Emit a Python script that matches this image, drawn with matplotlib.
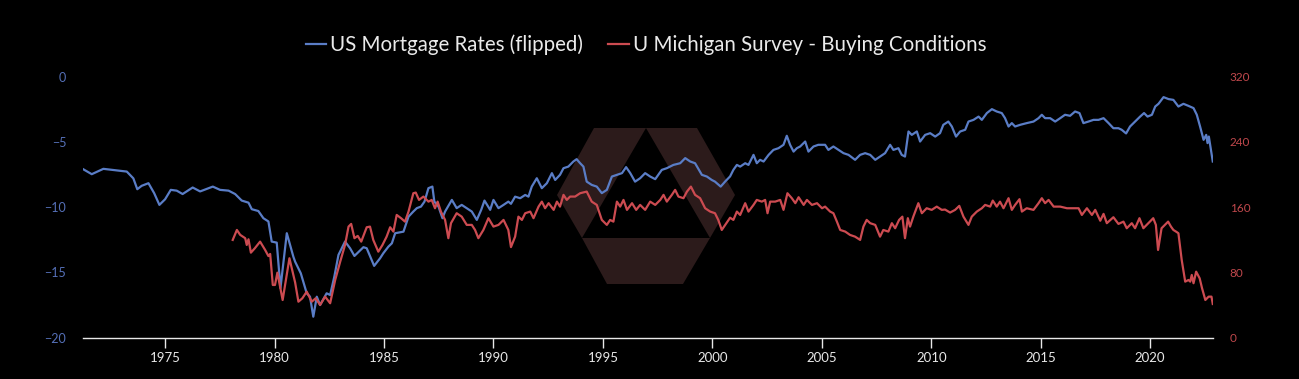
import matplotlib
matplotlib.use("Agg")
import matplotlib.pyplot as plt
from matplotlib.lines import Line2D
from matplotlib.patches import Polygon

# US mortgage rates (flipped sign), decimal years
mort_years = [
    1971.26, 1971.65, 1972.18, 1973.25, 1973.55, 1973.73, 1973.93, 1974.24, 1974.5, 1974.74,
    1975.0, 1975.26, 1975.53, 1975.8, 1976.26, 1976.6, 1977.18, 1977.51, 1977.9, 1978.2,
    1978.5, 1978.81, 1978.96, 1979.26, 1979.49, 1979.72, 1979.87, 1980.1, 1980.27, 1980.56,
    1980.86, 1980.94, 1981.2, 1981.47, 1981.62, 1981.77, 1981.93, 1982.08, 1982.38, 1982.54,
    1982.73, 1982.92, 1983.22, 1983.45, 1983.65, 1984.06, 1984.21, 1984.55, 1984.82, 1984.97,
    1985.2, 1985.36, 1985.51, 1985.89, 1986.12, 1986.34, 1986.5, 1986.69, 1986.85, 1987.03,
    1987.21, 1987.3, 1987.49, 1987.67, 1987.79, 1988.1, 1988.32, 1988.55, 1988.78, 1989.01,
    1989.24, 1989.44, 1989.59, 1989.85, 1990.0, 1990.23, 1990.46, 1990.68, 1990.8, 1990.99,
    1991.22, 1991.45, 1991.6, 1991.75, 1991.98, 1992.21, 1992.44, 1992.67, 1992.82, 1993.04,
    1993.2, 1993.42, 1993.65, 1993.8, 1993.96, 1994.11, 1994.26, 1994.49, 1994.72, 1994.95,
    1995.18, 1995.41, 1995.64, 1995.87, 1996.06, 1996.25, 1996.47, 1996.7, 1996.93, 1997.16,
    1997.39, 1997.69, 1997.92, 1998.22, 1998.53, 1998.76, 1998.99, 1999.21, 1999.52, 1999.75,
    1999.97, 2000.12, 2000.38, 2000.58, 2000.81, 2000.96, 2001.12, 2001.27, 2001.5, 2001.65,
    2001.88, 2002.03, 2002.18, 2002.34, 2002.57, 2002.79, 2003.02, 2003.25, 2003.4, 2003.55,
    2003.71, 2003.86, 2004.01, 2004.24, 2004.39, 2004.62, 2004.84, 2005.15, 2005.3, 2005.53,
    2005.76, 2005.99, 2006.22, 2006.52, 2006.75, 2006.98, 2007.21, 2007.44, 2007.66, 2007.89,
    2008.12, 2008.27, 2008.5, 2008.65, 2008.8, 2008.96, 2009.11, 2009.34, 2009.49, 2009.72,
    2009.95, 2010.18, 2010.4, 2010.55, 2010.78, 2010.94, 2011.13, 2011.32, 2011.55, 2011.7,
    2011.93, 2012.16, 2012.31, 2012.54, 2012.77, 2012.99, 2013.22, 2013.37, 2013.53, 2013.68,
    2013.83, 2014.06, 2014.36, 2014.67, 2014.9, 2015.05, 2015.2, 2015.43, 2015.66, 2015.89,
    2016.11, 2016.34, 2016.57, 2016.77, 2016.95, 2017.18, 2017.41, 2017.64, 2017.87, 2018.1,
    2018.32, 2018.55, 2018.7, 2018.9, 2019.08, 2019.31, 2019.54, 2019.72, 2019.88, 2020.08,
    2020.23, 2020.38, 2020.61, 2020.84, 2021.06, 2021.29, 2021.52, 2021.75, 2021.98, 2022.13,
    2022.28, 2022.44, 2022.56, 2022.62, 2022.68, 2022.86,
]
mort_vals = [
    -7.1, -7.48, -7.07, -7.28, -7.8, -8.63, -8.37, -8.17, -8.93, -9.83,
    -9.4, -8.68, -8.74, -9.0, -8.5, -8.8, -8.43, -8.68, -8.74, -9.0,
    -9.5, -9.66, -10.16, -10.3, -10.85, -11.1, -12.64, -12.72, -16.2, -12.0,
    -13.8, -14.18, -15.07, -16.6, -16.86, -18.39, -16.86, -17.5, -16.6, -16.73,
    -15.33, -13.66, -12.64, -13.15, -13.74, -13.07, -13.15, -14.5, -13.92, -13.53,
    -13.03, -12.77, -12.0, -11.88, -10.73, -10.34, -10.08, -9.96, -9.58, -8.55,
    -8.43, -9.58, -9.96, -10.85, -10.34, -9.45, -10.08, -9.83, -10.08, -10.34,
    -10.98, -10.21, -9.5, -10.21, -9.45, -10.08, -9.83, -9.58, -9.75, -9.2,
    -9.32, -9.07, -9.2, -8.43, -7.79, -8.55, -8.17, -7.4, -7.92, -7.53,
    -7.02, -6.9, -6.51, -6.33, -6.64, -6.9, -8.05, -8.3, -8.43, -8.93,
    -8.68, -7.66, -7.53, -7.4, -6.94, -7.4, -8.05, -7.79, -7.4, -7.66,
    -7.86, -7.15, -7.02, -6.77, -6.64, -6.25, -6.51, -6.64, -7.53, -7.66,
    -7.92, -8.05, -8.43, -8.05, -7.65, -7.15, -6.77, -6.9, -6.64, -6.77,
    -6.0, -6.64, -6.38, -6.51, -6.0, -5.62, -5.49, -5.23, -4.54, -5.23,
    -5.75, -5.49, -5.36, -4.98, -5.75, -5.36, -5.23, -5.23, -5.62, -5.36,
    -5.62, -5.87, -6.0, -6.38, -6.0, -5.87, -6.0, -6.38, -6.13, -5.87,
    -5.23, -5.62, -5.49, -6.0, -6.13, -4.21, -4.47, -4.21, -4.98, -4.47,
    -4.34, -4.6, -4.34, -3.7, -3.45, -3.83, -4.6, -4.21, -4.08, -3.45,
    -3.32, -3.07, -3.32, -2.8, -2.5, -2.68, -2.8, -3.19, -3.83, -3.57,
    -3.83, -3.7, -3.57, -3.45, -3.19, -2.93, -3.19, -3.19, -3.45, -3.19,
    -2.93, -3.01, -2.68, -2.8, -3.57, -3.45, -3.32, -3.32, -3.19, -3.57,
    -3.96, -3.96, -4.08, -4.36, -3.83, -3.45, -3.07, -2.8, -3.07, -2.93,
    -2.3, -2.09, -1.58, -1.73, -1.79, -2.3, -2.09, -2.25, -2.42, -2.93,
    -3.83, -4.85, -4.47, -5.1, -4.6, -6.51,
]

# U Michigan survey - buying conditions for houses
buy_years = [
    1978.09, 1978.28, 1978.43, 1978.66, 1978.73, 1978.81, 1978.92, 1979.1, 1979.34, 1979.57,
    1979.72, 1979.8, 1979.92, 1980.02, 1980.13, 1980.37, 1980.68, 1980.94, 1981.09, 1981.27,
    1981.47, 1981.7, 1981.88, 1982.08, 1982.31, 1982.54, 1982.77, 1983.0, 1983.22, 1983.38,
    1983.5, 1983.65, 1983.8, 1983.96, 1984.21, 1984.36, 1984.51, 1984.74, 1984.93, 1985.12,
    1985.28, 1985.43, 1985.58, 1985.78, 1985.96, 1986.12, 1986.34, 1986.45, 1986.6, 1986.8,
    1987.03, 1987.18, 1987.33, 1987.45, 1987.6, 1987.79, 1987.94, 1988.06, 1988.32, 1988.55,
    1988.78, 1989.01, 1989.16, 1989.31, 1989.54, 1989.77, 1990.0, 1990.23, 1990.46, 1990.68,
    1990.8, 1990.99, 1991.14, 1991.3, 1991.45, 1991.68, 1991.83, 1992.06, 1992.21, 1992.36,
    1992.52, 1992.75, 1992.9, 1993.04, 1993.2, 1993.35, 1993.5, 1993.73, 1993.96, 1994.26,
    1994.49, 1994.72, 1994.95, 1995.18, 1995.33, 1995.48, 1995.64, 1995.79, 1995.94, 1996.1,
    1996.33, 1996.52, 1996.7, 1996.93, 1997.16, 1997.39, 1997.62, 1997.77, 1997.92, 1998.15,
    1998.3, 1998.45, 1998.68, 1998.84, 1999.02, 1999.21, 1999.44, 1999.67, 1999.9, 2000.12,
    2000.27, 2000.43, 2000.58, 2000.81, 2000.96, 2001.12, 2001.27, 2001.5, 2001.65, 2001.88,
    2002.03, 2002.26, 2002.41, 2002.52, 2002.64, 2002.87, 2003.1, 2003.25, 2003.43, 2003.63,
    2003.79, 2003.94, 2004.17, 2004.32, 2004.55, 2004.78, 2005.01, 2005.15, 2005.38, 2005.53,
    2005.69, 2005.84, 2006.07, 2006.29, 2006.52, 2006.75, 2006.9, 2007.05, 2007.21, 2007.44,
    2007.66, 2007.81, 2008.04, 2008.2, 2008.35, 2008.53, 2008.68, 2008.8, 2008.93, 2009.03,
    2009.18, 2009.41, 2009.57, 2009.79, 2010.02, 2010.25, 2010.48, 2010.63, 2010.86, 2011.09,
    2011.28, 2011.47, 2011.7, 2011.85, 2012.08, 2012.31, 2012.46, 2012.69, 2012.81, 2012.99,
    2013.14, 2013.3, 2013.53, 2013.68, 2013.83, 2014.03, 2014.14, 2014.36, 2014.67, 2014.9,
    2015.05, 2015.2, 2015.36, 2015.59, 2015.89, 2016.2, 2016.5, 2016.73, 2016.88, 2017.11,
    2017.34, 2017.49, 2017.72, 2017.87, 2018.02, 2018.32, 2018.55, 2018.78, 2018.93, 2019.16,
    2019.31, 2019.51, 2019.69, 2019.92, 2020.14, 2020.26, 2020.36, 2020.52, 2020.67, 2020.82,
    2020.95, 2021.06, 2021.18, 2021.29, 2021.44, 2021.6, 2021.75, 2021.83, 2021.9, 2021.98,
    2022.1, 2022.26, 2022.37, 2022.52, 2022.67, 2022.8, 2022.86,
]
buy_vals = [
    119.8, 132, 126, 121.9, 113.6, 120.6, 104.2, 109.6, 117.7, 107.5,
    100, 102.6, 64.6, 64.6, 79.7, 46.2, 97.3, 67.7, 44.1, 48.3,
    56.4, 44.1, 48.3, 40.1, 50.3, 42.2, 70.7, 93.2, 113.6, 136.1,
    139.4, 121.9, 124.7, 117.7, 135.3, 136.1, 119.8, 105.4, 113.6, 123.8,
    135.3, 130, 150.4, 146.4, 142.2, 154.5, 177, 177.8, 168.8, 172.9,
    166.7, 168.8, 158.6, 166.7, 154.5, 144.3, 121.9, 140.3, 152.5, 148.3,
    138.2, 138.2, 132, 121.9, 132, 146.4, 136.1, 138.2, 144.3, 132,
    111, 123.8, 148.3, 144.3, 152.5, 154.5, 146.4, 160.6, 166.7, 158.6,
    164.8, 156.6, 166.7, 160.6, 175, 168.8, 172.9, 172.9, 177, 179,
    166.7, 162.7, 144.3, 138.2, 144.3, 142.2, 166.7, 160.6, 168.8, 156.6,
    164.8, 156.6, 162.7, 156.6, 166.7, 162.7, 168.8, 175, 166.7, 175,
    181.1, 172.9, 170.9, 179, 185.1, 175, 170.9, 158.6, 154.5, 152.5,
    144.3, 132, 138, 147, 144.3, 154.5, 150.4, 164.8, 154.5, 162.7,
    168.8, 166.7, 168.8, 152.5, 166.7, 166.7, 168.8, 156.6, 177, 170.9,
    164.8, 172.1, 162.7, 168.8, 162.7, 164.8, 158.6, 160.6, 154.5, 152.5,
    142.2, 132, 130, 125.9, 123.8, 119.8, 136.1, 144.3, 140.3, 138.2,
    123.8, 132, 130, 140.3, 134.1, 144.3, 148.3, 121.9, 146.4, 136.1,
    148.3, 164.8, 152.5, 158.6, 156.6, 160.6, 156.6, 157, 153.3, 156.6,
    161.5, 148.3, 138.2, 148.3, 154.5, 158.6, 162.7, 160.6, 168, 160.6,
    166.7, 158.6, 170.9, 156.6, 162.7, 169.7, 154.5, 158.6, 156.6, 164.8,
    170.9, 164.8, 168.8, 160.6, 160.6, 158.6, 158.6, 158.6, 150.4, 158.6,
    150.4, 156.6, 143.3, 151.7, 140.3, 147.6, 139.4, 142.2, 134.1, 140.3,
    134.1, 146.4, 134.1, 140.3, 146.4, 138.2, 107.5, 134.1, 138.2, 142.2,
    136.1, 132, 130, 128, 95.3, 68.7, 70.7, 68.7, 76.9, 66.7,
    80.9, 72.8, 60.6, 46.2, 50.3, 50.3, 41.3,
]

year_ticks = [1975, 1980, 1985, 1990, 1995, 2000, 2005, 2010, 2015, 2020]
left_ticks = [-20, -15, -10, -5, 0]
right_ticks = [0, 80, 160, 240, 320]

BLUE = "#5a7dc6"
RED = "#cc4b51"
BG = "#000000"

plt.rcParams["font.family"] = ["Lato", "DejaVu Sans"]

W, H = 1299, 379
fig = plt.figure(figsize=(W / 100, H / 100), dpi=100, facecolor=BG)
ax = fig.add_axes([83 / W, 1 - 337.7 / H, 1130 / W, 261.2 / H])
ax.set_facecolor(BG)
ax2 = ax.twinx()


def px(x, y):
    return (x / W, 1 - y / H)


# watermark logo: hexagon with a triangle cut out
logo_color = "#2c1b1b"
pieces = [
    [(594, 128), (646, 128), (582, 238), (557, 195)],
    [(646, 128), (697, 128), (735, 195), (710, 238)],
    [(582, 238), (710, 238), (683, 284), (607, 284)],
]
for pts in pieces:
    ax.add_patch(Polygon([px(*p) for p in pts], closed=True, transform=fig.transFigure,
                         facecolor=logo_color, edgecolor="none", zorder=0))

ax.plot(mort_years, mort_vals, color=BLUE, lw=1.6, zorder=3)
ax2.plot(buy_years, buy_vals, color=RED, lw=1.6, zorder=3)

ax.set_xlim(1971.25, 2022.87)
ax.set_ylim(-20, 0)
ax2.set_ylim(0, 320)

ax.set_xticks(year_ticks)
ax.set_xticklabels([str(y) for y in year_ticks])
ax.set_yticks(left_ticks)
ax2.set_yticks(right_ticks)

for a in (ax, ax2):
    for s in ("top", "left", "right", "bottom"):
        a.spines[s].set_visible(False)
ax.spines["bottom"].set_visible(True)
ax.spines["bottom"].set_color("#e8e8e8")
ax.spines["bottom"].set_linewidth(1.0)

ax.tick_params(axis="x", colors="#e8e8e8", length=7.5, width=1.0, labelsize=9.5, pad=3)
ax.tick_params(axis="y", colors="#5570b8", length=0, labelsize=9, pad=12)
ax2.tick_params(axis="y", colors="#c0484c", length=0, labelsize=8.5, pad=12)

handles = [
    Line2D([], [], color=BLUE, lw=1.6),
    Line2D([], [], color=RED, lw=1.6),
]
labels = ["US Mortgage Rates (flipped)", "U Michigan Survey - Buying Conditions"]
leg = fig.legend(handles, labels, loc="center", bbox_to_anchor=(646 / W, 1 - 45 / H),
                 ncol=2, frameon=False, fontsize=14.8, handlelength=1.0,
                 handletextpad=0.2, columnspacing=1.2)
for t in leg.get_texts():
    t.set_color("#eaeaea")

fig.savefig("out.png", dpi=100, facecolor=BG)
